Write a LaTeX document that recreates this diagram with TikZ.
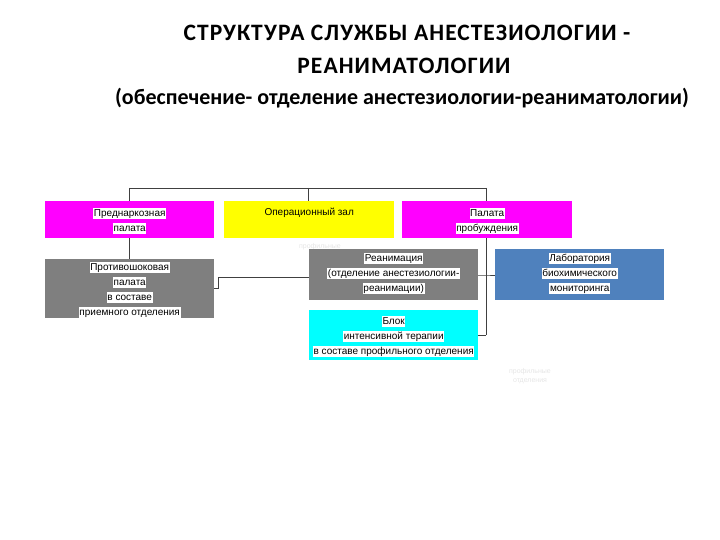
\documentclass[tikz,border=0pt]{standalone}
\usepackage{fontspec}
\setmainfont{Liberation Sans}
\newfontfamily\titlefont{Carlito}
\newfontfamily\titlesp{Carlito}[LetterSpace=4.5]
\definecolor{magbox}{HTML}{FF00FF}
\definecolor{yelbox}{HTML}{FFFF00}
\definecolor{graybox}{HTML}{7F7F7F}
\definecolor{bluebox}{HTML}{4F81BD}
\definecolor{cyanbox}{HTML}{00FFFF}
\definecolor{linecol}{HTML}{404040}
\newcommand{\wl}[1]{{\setlength{\fboxsep}{0.6pt}\colorbox{white}{\rule[-2.6pt]{0pt}{10pt}#1}}}
\tikzset{
  box/.style={draw=none, minimum width=169pt, inner sep=0pt, anchor=north west},
  btext/.style={anchor=north, align=center, font=\fontsize{10}{15}\selectfont, inner sep=0pt},
  conn/.style={draw=linecol, line width=0.6pt},
  ghost/.style={text=black!10, font=\fontsize{7}{9}\selectfont, align=center}
}
\begin{document}
\begin{tikzpicture}[x=1pt,y=-1pt]
\useasboundingbox (0,0) rectangle (720,540);
% titles
\node[font=\titlesp\bfseries\fontsize{23.5}{26}\selectfont] (t1) at (407,33) {СТРУКТУРА СЛУЖБЫ АНЕСТЕЗИОЛОГИИ -};
\node[font=\titlesp\bfseries\fontsize{23.5}{26}\selectfont] (t2) at (404,66) {РЕАНИМАТОЛОГИИ};
\node[font=\titlefont\bfseries\fontsize{22}{24}\selectfont] (t3) at (402,98) {(обеспечение- отделение анестезиологии-реаниматологии)};
% ghost texts
\node[ghost] (g1) at (320,250) {профильные\\1};
\node[ghost] (g2) at (530,376) {профильные\\отделения};
% connector coordinates
\coordinate (tl) at (129,188);
\coordinate (tm) at (308,188);
\coordinate (tr) at (486,188);
\coordinate (rb) at (486,335);
\coordinate (rm) at (486,275);
\coordinate (j1) at (218,288);
\coordinate (j2) at (218,277);
% connectors first (behind boxes)
\draw[conn] (tl) -- (tr);
\draw[conn] (tl) -- (129,259);
\draw[conn] (tm) -- (308,201);
\draw[conn] (tr) -- (rb);
% boxes
\node[box, fill=magbox, minimum height=37pt] (pred) at (45,201) {};
\node[box, fill=yelbox, minimum height=37pt, minimum width=170pt] (oper) at (224,201) {};
\node[box, fill=magbox, minimum height=37pt, minimum width=170pt] (pal) at (402,201) {};
\node[box, fill=graybox, minimum height=59pt] (prot) at (45,259) {};
\node[box, fill=graybox, minimum height=51pt] (rean) at (309,249) {};
\node[box, fill=bluebox, minimum height=51pt] (lab) at (495,249) {};
\node[box, fill=cyanbox, minimum height=50pt] (blok) at (309,310) {};
% connectors between boxes
\draw[conn] (prot.east |- j1) -- (j1) -- (j2) -- (rean.west |- j2);
\draw[conn] (rean.east |- rm) -- (rm) -- (lab.west |- rm);
\draw[conn] (rb) -- (blok.east |- rb);
% texts
\node[btext] (tpred) at ([yshift=-7pt]pred.north) {\wl{Преднаркозная}\\\wl{палата}};
\node[btext] (toper) at ([yshift=-7pt]oper.north) {\rule[-2.6pt]{0pt}{10pt}Операционный зал};
\node[btext] (tpal) at ([yshift=-7pt]pal.north) {\wl{Палата}\\\wl{пробуждения}};
\node[btext] (tprot) at ([yshift=-3pt]prot.north) {\wl{Противошоковая}\\\wl{палата}\\\wl{в составе}\\\wl{приемного отделения}};
\node[btext] (trean) at ([yshift=-4pt]rean.north) {\wl{Реанимация}\\\wl{(отделение анестезиологии-}\\\wl{реанимации)}};
\node[btext] (tlab) at ([yshift=-4pt]lab.north) {\wl{Лаборатория}\\\wl{биохимического}\\\wl{мониторинга}};
\node[btext] (tblok) at ([yshift=-6pt]blok.north) {\wl{Блок}\\\wl{интенсивной терапии}\\\wl{в составе профильного отделения}};
\end{tikzpicture}
\end{document}
